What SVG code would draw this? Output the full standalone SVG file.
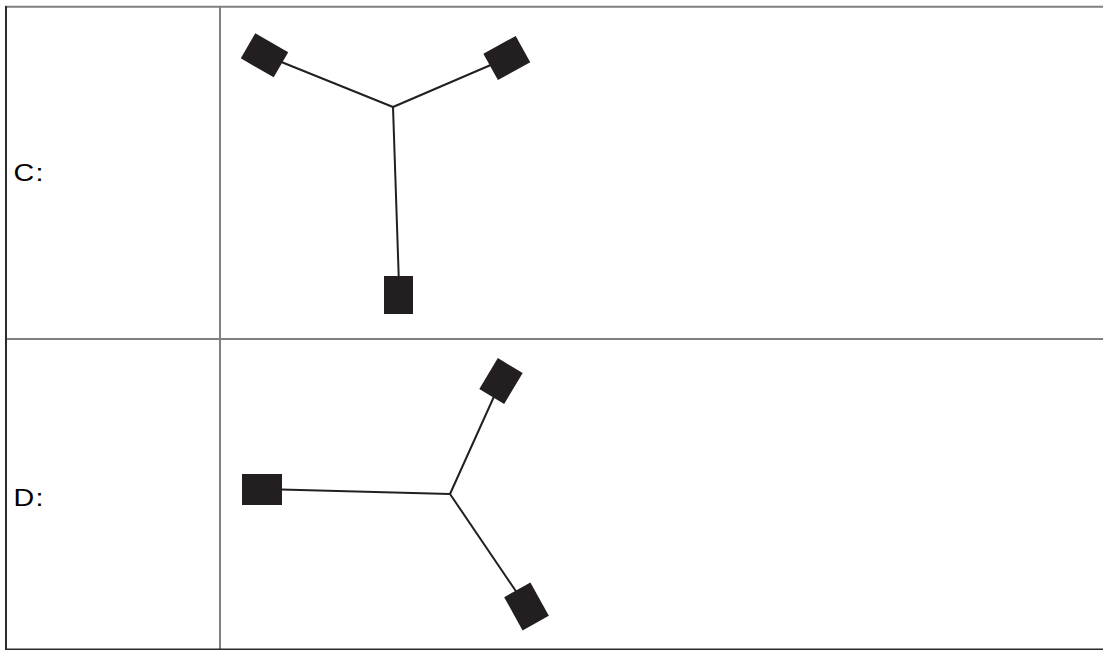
<svg xmlns="http://www.w3.org/2000/svg" width="1103" height="650" viewBox="0 0 1103 650">
<style>
.grid{stroke:#808080;stroke-width:2;fill:none}
.dark{stroke:#2b2b2b;stroke-width:2;fill:none}
.conn{stroke:#231f20;stroke-width:2;fill:none;stroke-linecap:round}
.sq{fill:#231f20}
.lbl{font-family:"Liberation Sans",Arial,sans-serif;font-size:24.3px;fill:#000;letter-spacing:1px}
</style>
<rect width="1103" height="650" fill="#fff"/>
<g id="table">
<line class="grid" x1="5" y1="6.8" x2="1103" y2="6.8"/>
<line class="grid" x1="5" y1="339" x2="1103" y2="339"/>
<line class="grid" x1="220" y1="6" x2="220" y2="650"/>
<line class="dark" x1="6" y1="6" x2="6" y2="650"/>
<line class="dark" x1="5" y1="649.5" x2="1103" y2="649.5"/>
</g>
<text class="lbl" transform="translate(13.6,180.5) scale(1.18,1)">C:</text>
<text class="lbl" transform="translate(13.6,505.5) scale(1.18,1)">D:</text>
<g id="connectors">
<line class="conn" x1="393" y1="107" x2="264" y2="55"/>
<line class="conn" x1="393" y1="107" x2="507" y2="58"/>
<line class="conn" x1="393" y1="107" x2="399" y2="285"/>
<line class="conn" x1="450" y1="494" x2="262" y2="489"/>
<line class="conn" x1="450" y1="494" x2="501" y2="381"/>
<line class="conn" x1="450" y1="494" x2="526" y2="606"/>
</g>
<g id="c-left"><rect class="sq" x="-19" y="-14.5" width="38" height="29" transform="translate(264.5,55.3) rotate(30)"/></g>
<g id="c-right"><rect class="sq" x="-18.5" y="-15" width="37" height="30" transform="translate(506.8,58) rotate(-29)"/></g>
<g id="c-bottom"><rect class="sq" x="384" y="276" width="29" height="38"/></g>
<g id="d-left"><rect class="sq" x="242" y="474" width="40" height="31"/></g>
<g id="d-top"><rect class="sq" x="-14.5" y="-18" width="29" height="36" transform="translate(501,381) rotate(31)"/></g>
<g id="d-bottom"><rect class="sq" x="-19" y="-15" width="38" height="30" transform="translate(526.5,606.5) rotate(61)"/></g>
</svg>
